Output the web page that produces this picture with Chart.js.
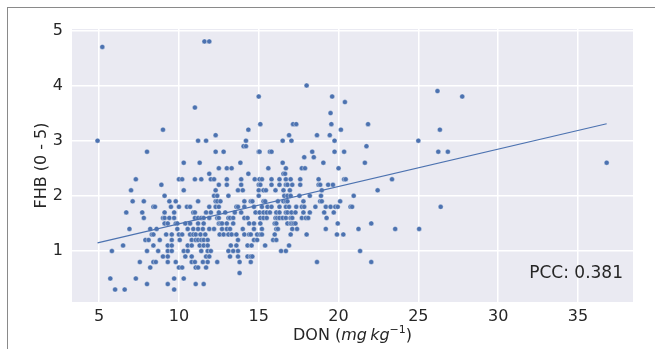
<!DOCTYPE html>
<html>
<head>
<meta charset="utf-8">
<script src="https://cdn.jsdelivr.net/npm/chart.js@4"></script>
<style>
  html, body { margin: 0; padding: 0; background: #fff; overflow: hidden; }
  #wrap { position: relative; width: 655px; height: 349px; }
  #frame { position: absolute; left: 7px; top: 7px; width: 700px; height: 400px; border-left: 1px solid #8a8a8a; border-top: 1px solid #8a8a8a; }
  #chart { position: absolute; left: 0; top: 0; }
</style>
</head>
<body>
<div id="wrap">
  <div id="frame"></div>
  <canvas id="chart" width="655" height="349"></canvas>
</div>
<script>
// FHB score levels and the DON values measured at each level
const fhbLevels = [4.8, 4.7, 4.0, 3.9, 3.8, 3.7, 3.6, 3.5, 3.3, 3.2, 3.1, 3.0, 2.9, 2.8, 2.7, 2.6, 2.5, 2.4, 2.3, 2.2, 2.1, 2.0,
  1.9, 1.8, 1.7, 1.6, 1.5, 1.4, 1.3, 1.2, 1.1, 1.0, 0.9, 0.8, 0.7, 0.6, 0.5, 0.4, 0.3];

const donByLevel = [
  [11.6, 11.9],
  [5.2],
  [18.0],
  [26.2],
  [15.0, 19.6, 27.75],
  [20.4],
  [11.0],
  [19.5],
  [15.1, 17.15, 17.35, 19.55, 21.85],
  [9.0, 14.35, 20.15, 26.35],
  [12.3, 16.9, 18.65, 19.45],
  [4.9, 11.2, 11.7, 14.2, 16.5, 17.05, 19.75, 25.0],
  [14.05, 14.2, 21.75],
  [8.0, 12.3, 12.8, 15.0, 15.05, 15.7, 15.8, 18.35, 19.75, 20.35, 26.25, 26.85],
  [17.85, 18.45],
  [10.3, 11.3, 13.85, 16.5, 19.05, 21.65, 36.8],
  [12.5, 13.0, 13.3, 15.6, 16.7, 17.7, 17.9, 20.0],
  [11.9, 14.35, 16.55, 16.65],
  [7.3, 10.0, 10.2, 11.0, 11.4, 12.0, 12.2, 13.0, 13.9, 14.75, 15.05, 15.2, 15.8, 16.3, 16.7, 17.0, 17.6, 18.75, 20.35, 20.45, 23.35],
  [8.9, 12.5, 13.0, 13.9, 15.0, 15.1, 15.8, 16.3, 16.7, 16.8, 17.1, 17.6, 18.75, 18.85, 19.35, 19.65],
  [7.0, 10.3, 12.3, 13.7, 14.0, 15.0, 15.3, 15.45, 16.05, 16.55, 16.95, 18.95, 22.45],
  [9.1, 12.2, 12.4, 13.1, 15.0, 16.6, 16.8, 17.0, 17.55, 18.2, 18.9, 20.95],
  [7.1, 7.8, 9.4, 9.8, 11.2, 12.3, 12.4, 12.6, 14.1, 14.5, 14.6, 15.3, 15.4, 16.2, 16.55, 16.7, 16.8, 17.8, 18.85, 18.95, 20.1],
  [8.4, 8.5, 9.5, 10.0, 10.5, 10.7, 11.9, 12.3, 12.5, 13.6, 13.7, 14.1, 14.7, 15.2, 15.55, 15.8, 16.3, 16.7, 16.9, 17.35,
    17.7, 17.85, 18.55, 19.2, 19.5, 19.8, 19.95, 20.75, 20.85, 26.4],
  [6.7, 7.7, 9.1, 9.7, 10.9, 11.0, 11.7, 12.0, 12.5, 12.9, 13.5, 13.9, 14.8, 15.05, 15.3, 15.5, 15.7, 16.1, 16.3, 16.7,
    16.8, 17.05, 17.3, 17.8, 18.2, 19.1, 19.7],
  [7.8, 9.0, 9.1, 9.4, 9.7, 11.0, 11.2, 11.4, 11.55, 11.9, 12.4, 12.5, 13.1, 13.2, 13.4, 14.1, 14.3, 15.1, 15.3, 15.5,
    16.05, 16.15, 16.3, 16.5, 16.7, 17.0, 17.1, 17.7, 17.95, 18.1, 19.25],
  [9.1, 9.3, 9.8, 9.9, 10.4, 10.7, 11.2, 11.55, 12.5, 12.6, 12.7, 13.0, 13.4, 14.4, 14.7, 15.1, 16.0, 16.1, 16.8, 17.0,
    17.1, 17.2, 17.3, 19.95, 22.05],
  [6.9, 8.2, 8.6, 9.9, 10.55, 10.9, 11.2, 11.5, 11.9, 12.2, 12.7, 13.0, 13.2, 14.0, 14.7, 15.2, 16.1, 16.2, 17.1, 17.4,
    19.2, 21.25, 23.55, 25.05],
  [8.3, 8.4, 9.2, 9.55, 10.0, 10.2, 10.7, 10.9, 11.05, 11.35, 11.65, 12.55, 12.8, 13.1, 13.3, 13.6, 14.1, 14.4, 14.5, 14.9,
    15.1, 15.2, 16.0, 17.0, 18.0, 19.9, 20.3],
  [7.9, 8.1, 8.8, 9.55, 10.05, 10.8, 11.05, 11.2, 11.4, 11.55, 11.8, 13.7, 14.7, 14.9, 15.9, 16.1],
  [6.5, 8.4, 9.3, 9.55, 10.55, 10.8, 11.3, 11.55, 11.8, 13.25, 13.6, 14.3, 14.55, 15.4, 16.9],
  [5.8, 8.0, 8.7, 9.3, 9.55, 10.3, 10.55, 11.4, 11.8, 12.0, 13.1, 13.4, 13.7, 16.4, 16.7, 21.35],
  [9.0, 9.3, 10.4, 10.8, 11.7, 11.9, 13.2, 13.7, 14.3, 14.5, 14.6],
  [7.55, 8.4, 8.55, 9.3, 9.8, 10.8, 11.0, 11.5, 11.8, 12.4, 13.8, 14.5, 18.65, 22.05],
  [8.2, 10.0, 10.2, 11.05, 11.2, 11.7],
  [13.8],
  [5.7, 7.3, 9.7, 10.3],
  [8.0, 9.3, 11.05, 11.55],
  [6.0, 6.6, 9.7]
];

// regression line
const fitSlope = 0.0677;
const fitIntercept = 0.816;
const pccText = "PCC: 0.381";

const xTicks = [5, 10, 15, 20, 25, 30, 35];
const yTicks = [1, 2, 3, 4, 5];

const points = [];
fhbLevels.forEach((lvl, i) => {
  donByLevel[i].forEach(d => points.push({ x: d, y: lvl }));
});

const allDon = points.map(p => p.x);
const donMin = Math.min(...allDon);
const donMax = Math.max(...allDon);
const fitLine = [donMin, donMax].map(d => ({ x: d, y: fitIntercept + fitSlope * d }));

const FONT = "'DejaVu Sans', sans-serif";
const TEXT = "#262626";
const BLUE = "#4C72B0";

const decorPlugin = {
  id: "decor",
  beforeDraw(chart) {
    const { ctx, chartArea: a } = chart;
    ctx.save();
    ctx.fillStyle = "#EAEAF2";
    ctx.fillRect(a.left, a.top, a.right - a.left, a.bottom - a.top);
    ctx.restore();
  },
  afterDraw(chart) {
    const { ctx, chartArea: a } = chart;
    ctx.save();
    ctx.fillStyle = TEXT;
    ctx.textBaseline = "alphabetic";

    // PCC label
    ctx.font = "17px " + FONT;
    ctx.textAlign = "right";
    ctx.fillText(pccText, a.right - 10, a.bottom - 24);

    // x axis title: DON (mg kg^-1)
    const parts = [
      { t: "DON (", f: "16px " + FONT, dy: 0 },
      { t: "mg", f: "italic 16px " + FONT, dy: 0 },
      { t: "\u2009", f: "16px " + FONT, dy: 0 },
      { t: "kg", f: "italic 16px " + FONT, dy: 0 },
      { t: "\u22121", f: "11px " + FONT, dy: -7 },
      { t: ")", f: "16px " + FONT, dy: 0 }
    ];
    let total = 0;
    parts.forEach(p => { ctx.font = p.f; total += ctx.measureText(p.t).width; });
    let x = (a.left + a.right) / 2 - total / 2;
    const base = 340;
    ctx.textAlign = "left";
    parts.forEach(p => {
      ctx.font = p.f;
      ctx.fillText(p.t, x, base + p.dy);
      x += ctx.measureText(p.t).width;
    });
    ctx.restore();
  }
};

new Chart(document.getElementById("chart"), {
  type: "scatter",
  data: {
    datasets: [
      {
        type: "line",
        data: fitLine,
        borderColor: BLUE,
        borderWidth: 1.2,
        pointRadius: 0,
        fill: false,
        order: 0
      },
      {
        data: points,
        backgroundColor: BLUE,
        borderColor: "rgba(255,255,255,0.7)",
        borderWidth: 0.5,
        pointRadius: 2.5,
        order: 1
      }
    ]
  },
  options: {
    responsive: false,
    devicePixelRatio: 1,
    animation: false,
    layout: { padding: { left: 28, right: 22, top: 29, bottom: 0 } },
    plugins: { legend: { display: false }, tooltip: { enabled: false } },
    scales: {
      x: {
        type: "linear",
        min: 3.3,
        max: 38.45,
        afterBuildTicks: s => { s.ticks = xTicks.map(v => ({ value: v })); },
        afterFit: s => { s.height = 47; },
        grid: { color: "#ffffff", lineWidth: 1.5, drawTicks: false },
        border: { display: false },
        ticks: { color: TEXT, font: { family: FONT, size: 16 }, padding: 5 }
      },
      y: {
        min: 0.075,
        max: 5.025,
        afterBuildTicks: s => { s.ticks = yTicks.map(v => ({ value: v })); },
        afterFit: s => { s.width = 44; },
        grid: { color: "#ffffff", lineWidth: 1.5, drawTicks: false },
        border: { display: false },
        ticks: { color: TEXT, font: { family: FONT, size: 16 }, padding: 9 },
        title: { display: true, text: "FHB (0 - 5)", color: TEXT, font: { family: FONT, size: 16 }, padding: { top: 4, bottom: 4 } }
      }
    }
  },
  plugins: [decorPlugin]
});
</script>
</body>
</html>
